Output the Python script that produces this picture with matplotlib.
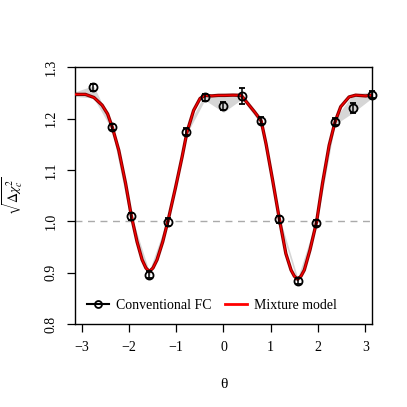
import numpy as np
import matplotlib
matplotlib.use("Agg")
import matplotlib.pyplot as plt

plt.rcParams["font.family"] = ["Liberation Serif", "DejaVu Serif"]
plt.rcParams["mathtext.fontset"] = "stix"

# conventional FC points (theta = k*pi/8)
theta_pts = np.pi / 8 * np.arange(-7, 9)
chi_pts = [1.2605, 1.183, 1.010, 0.896, 0.999, 1.174, 1.241, 1.224,
           1.244, 1.196, 1.004, 0.884, 0.997, 1.194, 1.220, 1.246]
chi_err = [0.007, 0.006, 0.007, 0.007, 0.008, 0.007, 0.006, 0.008,
           0.015, 0.006, 0.007, 0.006, 0.006, 0.007, 0.010, 0.007]

# grey band (edge at -pi, then the point positions)
band_x = np.concatenate([[-np.pi], theta_pts])
band_lo = [1.243, 1.240, 1.178, 1.002, 0.891, 0.993, 1.168, 1.236, 1.212,
           1.238, 1.190, 0.998, 0.879, 0.991, 1.188, 1.212, 1.240]
band_hi = [1.252, 1.264, 1.190, 1.016, 0.903, 1.006, 1.180, 1.248, 1.250,
           1.250, 1.202, 1.010, 0.890, 1.003, 1.200, 1.248, 1.252]

# mixture model curve
theta_fit = [-3.1416, -2.92, -2.74, -2.565, -2.45, -2.354, -2.213, -2.07,
             -1.947, -1.827, -1.72, -1.64, -1.567, -1.49, -1.404, -1.284,
             -1.17, -1.017, -0.875, -0.77, -0.63, -0.495, -0.39, -0.25,
             -0.11, 0.03, 0.2, 0.375, 0.516, 0.657, 0.796, 0.9, 1.04,
             1.183, 1.32, 1.43, 1.5, 1.568, 1.64, 1.71, 1.83, 1.97, 2.095,
             2.236, 2.362, 2.48, 2.657, 2.796, 3.006, 3.1416]
chi_fit = [1.247, 1.247, 1.241, 1.226, 1.209, 1.184, 1.138, 1.074,
           1.010, 0.960, 0.925, 0.909, 0.902, 0.909, 0.925, 0.960,
           1.002, 1.064, 1.125, 1.174, 1.216, 1.239, 1.245, 1.244,
           1.245, 1.245, 1.2455, 1.245, 1.229, 1.213, 1.196, 1.151, 1.080,
           1.004, 0.937, 0.905, 0.893, 0.887, 0.893, 0.905, 0.944, 0.999, 1.074,
           1.148, 1.194, 1.223, 1.242, 1.2455, 1.244, 1.2455]

fig = plt.figure(figsize=(4.07, 4.07), dpi=100)
ax = fig.add_axes([0.184, 0.204, 0.730, 0.631])

ax.fill_between(band_x, band_lo, band_hi, color="#d6d6d6", lw=0, zorder=1)
ax.axhline(1.0, color="#aaaaaa", ls=(0, (5, 4)), lw=1, zorder=2)
ax.plot(theta_fit, chi_fit, color="#8b0000", lw=2.4, zorder=3,
        solid_capstyle="butt", solid_joinstyle="round")
ax.plot(theta_fit, chi_fit, color="red", lw=0.9, zorder=4,
        solid_joinstyle="round")
ax.errorbar(theta_pts, chi_pts, yerr=chi_err, fmt="o", ms=5.8, mfc="none",
            mec="black", mew=1.3, ecolor="black", elinewidth=1.1,
            capsize=2.5, capthick=1.1, zorder=5, clip_on=False)

# legend handles
ax.plot([], [], color="black", lw=1.5, marker="o", ms=5, mfc="none",
        mew=1.3, label="Conventional FC")
ax.plot([], [], color="red", lw=2, label="Mixture model")
ax.legend(loc="lower left", frameon=False, ncol=2, fontsize=10,
          handlelength=1.6, handletextpad=0.5, columnspacing=1.0,
          bbox_to_anchor=(0.0, 0.0), borderaxespad=0.45)

ax.set_xlim(-np.pi, np.pi)
ax.set_ylim(0.8, 1.3)
ax.set_xticks(range(-3, 4))
ax.set_yticks([0.8, 0.9, 1.0, 1.1, 1.2, 1.3])
ax.set_yticklabels(["0.8", "0.9", "1.0", "1.1", "1.2", "1.3"],
                   rotation=90, va="center")
ax.tick_params(direction="out", length=5.5, width=0.9, labelsize=10, pad=7)
for s in ax.spines.values():
    s.set_linewidth(1.0)

ax.set_xlabel("θ", fontsize=11, labelpad=17)
ax.set_ylabel(r"$\sqrt{\Delta\chi_c^2}$", fontsize=10, labelpad=14)

fig.savefig("out.png", dpi=100)
